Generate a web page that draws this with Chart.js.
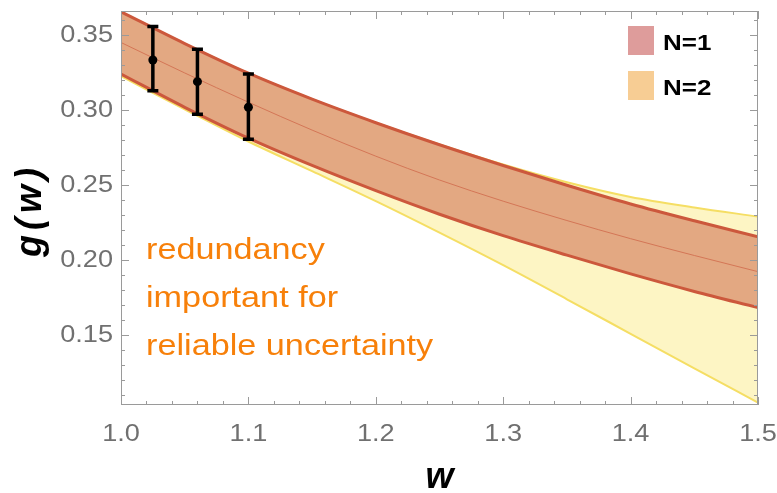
<!DOCTYPE html>
<html>
<head>
<meta charset="utf-8">
<script src="https://cdn.jsdelivr.net/npm/chart.js@4.4.1/dist/chart.umd.min.js"></script>
<style>
  html, body { margin: 0; padding: 0; background: #fff; }
  #wrap { width: 777px; height: 493px; }
</style>
</head>
<body>
<div id="wrap"><canvas id="chart"></canvas></div>
<script>
// values
const wGrid    = [1.00, 1.05, 1.10, 1.15, 1.20, 1.25, 1.30, 1.35, 1.40, 1.45, 1.50];
const n1Upper  = [0.3655, 0.3443, 0.3245, 0.3072, 0.2915, 0.2768, 0.2630, 0.2498, 0.2373, 0.2261, 0.2155];
const n1Center = [0.3450, 0.3247, 0.3052, 0.2866, 0.2692, 0.2533, 0.2392, 0.2263, 0.2142, 0.2030, 0.1922];
const n1Lower  = [0.3240, 0.3018, 0.2812, 0.2630, 0.2462, 0.2305, 0.2162, 0.2032, 0.1907, 0.1790, 0.1682];
const n2Upper  = [0.3655, 0.3443, 0.3245, 0.3072, 0.2915, 0.2770, 0.2636, 0.2518, 0.2420, 0.2350, 0.2289];
const n2Lower  = [0.3225, 0.3005, 0.2790, 0.2592, 0.2392, 0.2182, 0.1965, 0.1738, 0.1508, 0.1278, 0.1049];

const dataW  = [1.025, 1.060, 1.100];
const dataG  = [0.3333, 0.3189, 0.3018];
const dataLo = [0.3129, 0.2971, 0.2805];
const dataHi = [0.3556, 0.3405, 0.3240];

const xTicks = [1.0, 1.1, 1.2, 1.3, 1.4, 1.5];
const yTicks = [0.15, 0.20, 0.25, 0.30, 0.35];
const legendLabels = ['N=1', 'N=2'];
const noteLines = ['redundancy', 'important for', 'reliable uncertainty'];

const yellowFill = 'rgb(253,245,196)';
const yellowEdge = 'rgb(245,222,100)';
const n1Fill = 'rgb(227,168,130)';
const redEdge = 'rgb(204,88,60)';
const centerCol = 'rgb(212,118,86)';
const legendCols = ['rgb(222,156,155)', 'rgb(247,205,148)'];
const labelCol = '#707070';
const frameCol = '#9a9a9a';
const SX = 1.18; // picture is a bit stretched sideways

const pts = arr => wGrid.map((w, i) => ({ x: w, y: arr[i] }));

function stretchText(ctx, text, x, y, align, sx) {
  ctx.save();
  ctx.translate(x, y);
  ctx.scale(sx, 1);
  ctx.textAlign = align;
  ctx.fillText(text, 0, 0);
  ctx.restore();
}

const decor = {
  id: 'decor',
  afterDraw(chart) {
    const ctx = chart.ctx;
    const a = chart.chartArea;
    const xs = chart.scales.x, ys = chart.scales.y;

    // frame
    ctx.save();
    ctx.strokeStyle = frameCol;
    ctx.lineWidth = 1;
    ctx.strokeRect(a.left + 0.5, a.top + 0.5, a.right - a.left - 1, a.bottom - a.top - 1);

    // ticks inside the frame, all four sides
    ctx.beginPath();
    for (let k = 0; k <= 25; k++) {
      const v = 1.0 + k * 0.02;
      const p = Math.round(xs.getPixelForValue(v)) + 0.5;
      const len = (k % 5 === 0) ? 8 : 4;
      ctx.moveTo(p, a.bottom); ctx.lineTo(p, a.bottom - len);
      ctx.moveTo(p, a.top); ctx.lineTo(p, a.top + len);
    }
    for (let k = 11; k <= 36; k++) {
      const v = k * 0.01;
      const p = Math.round(ys.getPixelForValue(v)) + 0.5;
      const len = (k % 5 === 0) ? 8 : 4;
      ctx.moveTo(a.left, p); ctx.lineTo(a.left + len, p);
      ctx.moveTo(a.right, p); ctx.lineTo(a.right - len, p);
    }
    ctx.stroke();

    // tick labels
    ctx.fillStyle = labelCol;
    ctx.font = '23px "Liberation Sans", Arial, sans-serif';
    ctx.textBaseline = 'middle';
    yTicks.forEach(v => {
      stretchText(ctx, v.toFixed(2), a.left - 8, ys.getPixelForValue(v) + 1, 'right', SX);
    });
    ctx.textBaseline = 'alphabetic';
    xTicks.forEach(v => {
      stretchText(ctx, v.toFixed(1), xs.getPixelForValue(v), a.bottom + 36, 'center', SX);
    });

    // axis titles
    ctx.fillStyle = '#000';
    ctx.font = 'italic bold 36px "Liberation Sans", Arial, sans-serif';
    ctx.textAlign = 'center';
    ctx.fillText('w', (a.left + a.right) / 2, 488);
    ctx.save();
    ctx.translate(31, 210);
    ctx.rotate(-Math.PI / 2);
    ctx.textBaseline = 'middle';
    ctx.letterSpacing = '5px';
    ctx.fillText('g(w)', 0, 0);
    ctx.restore();

    // legend
    ctx.font = 'bold 22px "Liberation Sans", Arial, sans-serif';
    ctx.textBaseline = 'alphabetic';
    legendLabels.forEach((t, i) => {
      const top = 26 + i * 45;
      ctx.fillStyle = legendCols[i];
      ctx.fillRect(628, top, 26, 29);
      ctx.fillStyle = '#000';
      stretchText(ctx, t, 663, top + 24, 'left', SX);
    });

    // note
    ctx.fillStyle = 'rgb(247,128,10)';
    ctx.font = '29px "Liberation Sans", Arial, sans-serif';
    noteLines.forEach((t, i) => {
      stretchText(ctx, t, 146, 259 + i * 48, 'left', SX);
    });

    // data points with error bars
    ctx.strokeStyle = '#000';
    ctx.fillStyle = '#000';
    ctx.lineWidth = 3.5;
    dataW.forEach((w, i) => {
      const x = xs.getPixelForValue(w);
      const yt = ys.getPixelForValue(dataHi[i]);
      const yb = ys.getPixelForValue(dataLo[i]);
      ctx.beginPath();
      ctx.moveTo(x, yt); ctx.lineTo(x, yb);
      ctx.moveTo(x - 5.5, yt); ctx.lineTo(x + 5.5, yt);
      ctx.moveTo(x - 5.5, yb); ctx.lineTo(x + 5.5, yb);
      ctx.stroke();
      ctx.beginPath();
      ctx.arc(x, ys.getPixelForValue(dataG[i]), 4.5, 0, Math.PI * 2);
      ctx.fill();
    });
    ctx.restore();
  }
};

const lineBase = { pointRadius: 0, cubicInterpolationMode: 'monotone', fill: false };

// higher order is drawn first; lower edges come after their band fill
new Chart(document.getElementById('chart'), {
  type: 'line',
  data: {
    datasets: [
      { ...lineBase, data: pts(n2Upper), borderColor: yellowEdge, borderWidth: 2, backgroundColor: yellowFill, fill: 1, order: 4 },
      { ...lineBase, data: pts(n2Lower), borderColor: yellowEdge, borderWidth: 2, order: 3 },
      { ...lineBase, data: pts(n1Upper), borderColor: redEdge, borderWidth: 3, backgroundColor: n1Fill, fill: 3, order: 2 },
      { ...lineBase, data: pts(n1Lower), borderColor: redEdge, borderWidth: 3, order: 1 },
      { ...lineBase, data: pts(n1Center), borderColor: centerCol, borderWidth: 1, order: 0 }
    ]
  },
  options: {
    responsive: true,
    maintainAspectRatio: false,
    animation: false,
    devicePixelRatio: 1,
    layout: { padding: { top: 11, right: 19, left: 0, bottom: 0 } },
    plugins: { legend: { display: false }, tooltip: { enabled: false } },
    scales: {
      x: {
        type: 'linear', min: 1.0, max: 1.5,
        ticks: { display: false },
        grid: { display: false },
        border: { display: false },
        afterBuildTicks: s => { s.ticks = xTicks.map(v => ({ value: v })); },
        afterFit: s => { s.height = 88; }
      },
      y: {
        type: 'linear', min: 0.1033, max: 0.366,
        ticks: { display: false },
        grid: { display: false },
        border: { display: false },
        afterBuildTicks: s => { s.ticks = yTicks.map(v => ({ value: v })); },
        afterFit: s => { s.width = 121; }
      }
    }
  },
  plugins: [decor]
});
</script>
</body>
</html>
